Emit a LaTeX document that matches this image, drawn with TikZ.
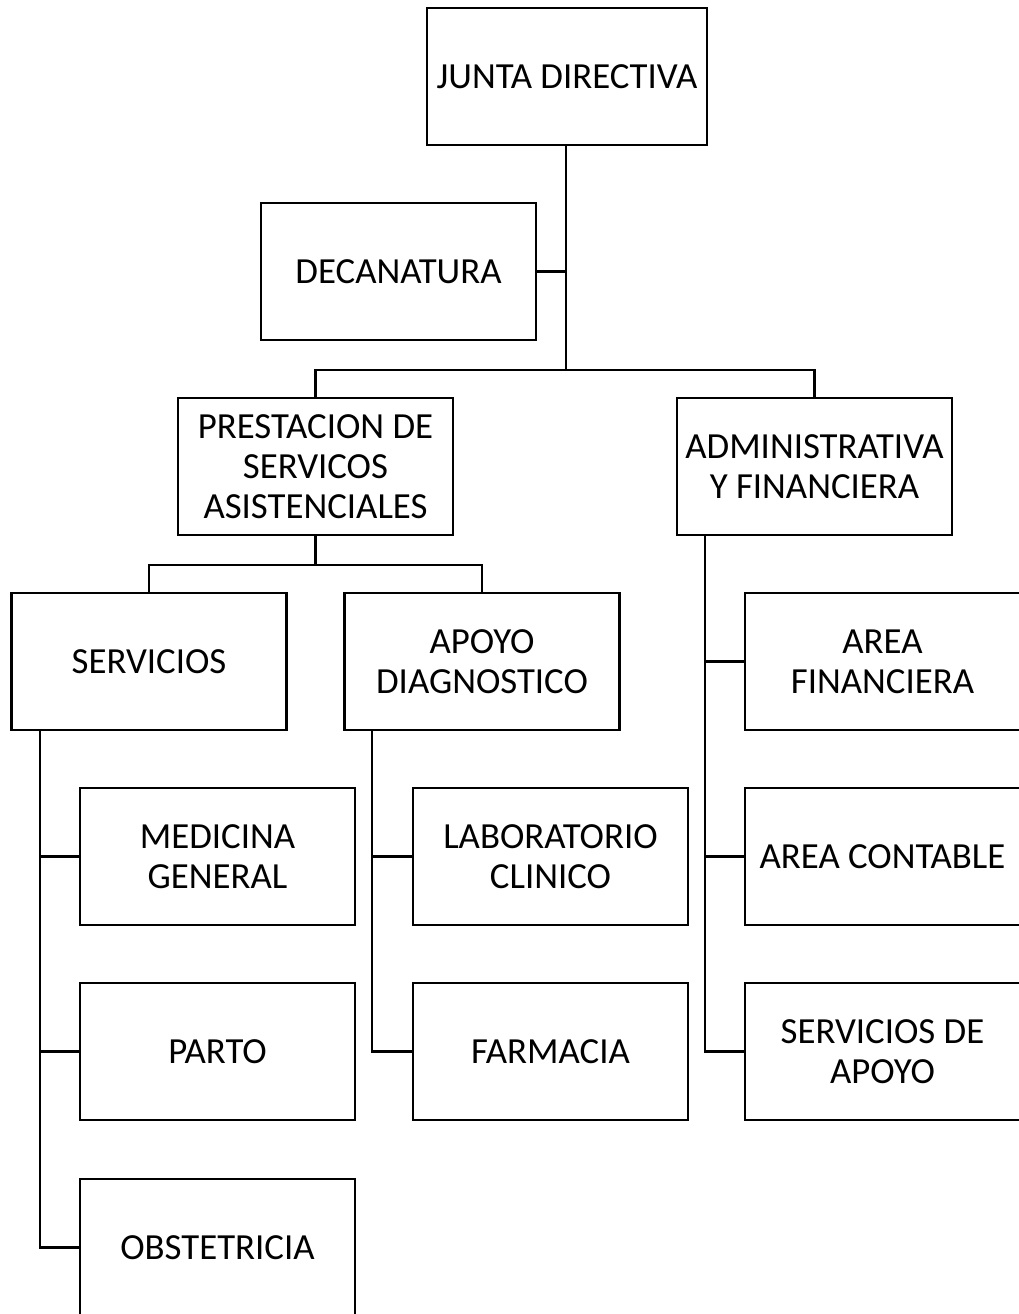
\documentclass[tikz,border=0pt]{standalone}
\usepackage{fontspec}
\setmainfont{Carlito}
\begin{document}
\begin{tikzpicture}[x=0.75pt,y=-0.75pt,
  box/.style={draw, line width=1.9pt, minimum width=206.25pt, minimum height=102.75pt,
    align=center, inner sep=0pt, font=\fontsize{27.6pt}{30.2pt}\selectfont},
  conn/.style={line width=1.9pt}]
\useasboundingbox (0,0) rectangle (1019,1314);
\clip (0,0) rectangle (1019,1314);
\fill[white] (0,0) rectangle (1019,1314);
% nodes
\node[box, minimum width=210pt] (junta) at (567,76.5) {JUNTA DIRECTIVA};
\node[box] (deca) at (398.5,271.5) {DECANATURA};
\node[box] (prest) at (315.5,466.5) {PRESTACION DE\\SERVICOS\\ASISTENCIALES};
\node[box] (admin) at (814.5,466.5) {ADMINISTRATIVA\\Y FINANCIERA};
\node[box] (serv) at (149,661.5) {SERVICIOS};
\node[box] (apoyo) at (482,661.5) {APOYO\\DIAGNOSTICO};
\node[box] (med) at (217.5,856.5) {MEDICINA\\GENERAL};
\node[box] (parto) at (217.5,1051.5) {PARTO};
\node[box] (obst) at (217.5,1247.5) {OBSTETRICIA};
\node[box] (lab) at (550.5,856.5) {LABORATORIO\\CLINICO};
\node[box] (farm) at (550.5,1051.5) {FARMACIA};
\node[box] (afin) at (882.5,661.5) {AREA\\FINANCIERA};
\node[box] (acont) at (882.5,856.5) {AREA CONTABLE};
\node[box] (sapoyo) at (882.5,1051.5) {SERVICIOS DE\\APOYO};
% bus coordinates
\coordinate (b1) at (566,370);
\coordinate (b2) at (315.5,565);
\coordinate (s1) at (40,730);
\coordinate (s2) at (372,730);
\coordinate (s3) at (705,535);
% connectors
\draw[conn] (junta.south -| b1) -- (b1);
\draw[conn] (deca.east) -- (deca.east -| b1);
\draw[conn] (prest.north) -- (prest.north |- b1) -- (admin.north |- b1) -- (admin.north);
\draw[conn] (prest.south) -- (b2);
\draw[conn] (serv.north) -- (serv.north |- b2) -- (apoyo.north |- b2) -- (apoyo.north);
\draw[conn] (serv.south -| s1) -- (obst.west -| s1) -- (obst.west);
\draw[conn] (med.west -| s1) -- (med.west);
\draw[conn] (parto.west -| s1) -- (parto.west);
\draw[conn] (apoyo.south -| s2) -- (farm.west -| s2) -- (farm.west);
\draw[conn] (lab.west -| s2) -- (lab.west);
\draw[conn] (admin.south -| s3) -- (sapoyo.west -| s3) -- (sapoyo.west);
\draw[conn] (afin.west -| s3) -- (afin.west);
\draw[conn] (acont.west -| s3) -- (acont.west);
\end{tikzpicture}
\end{document}
